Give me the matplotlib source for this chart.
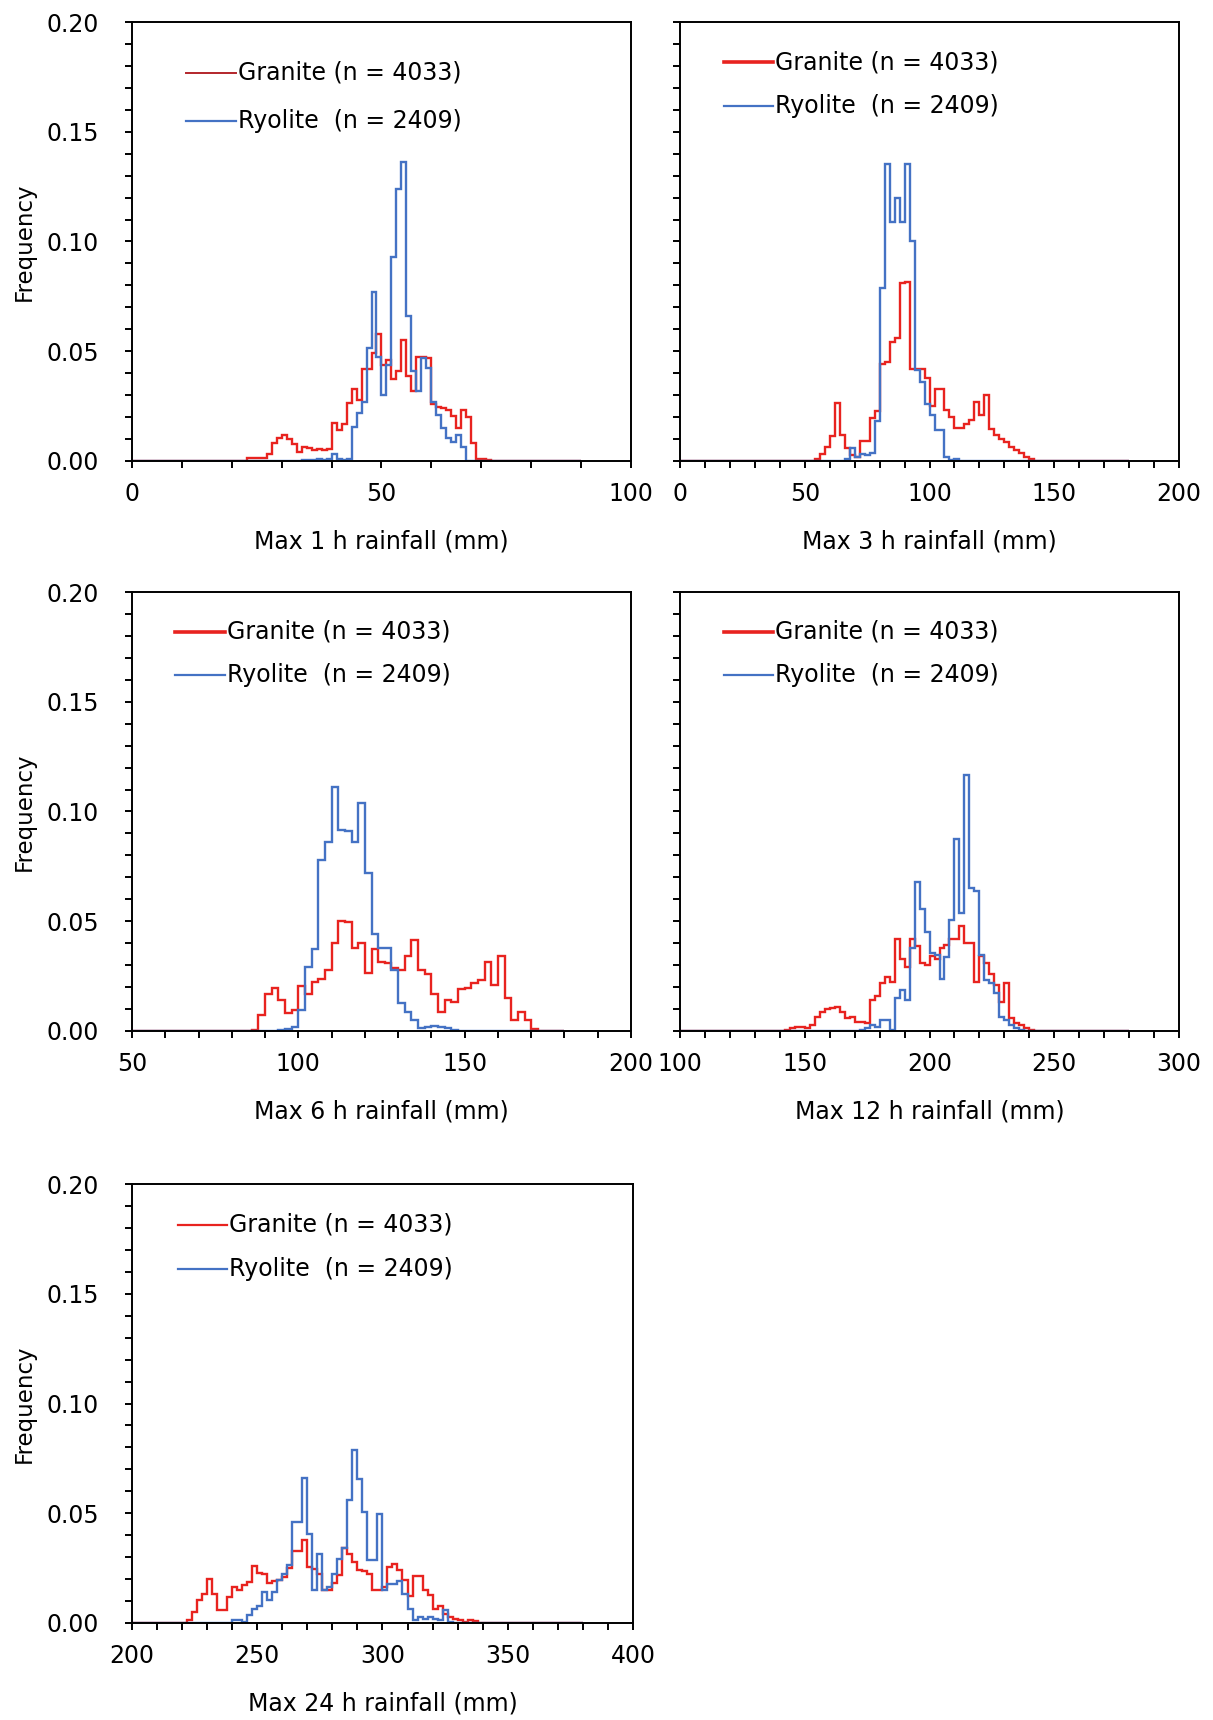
import numpy as np
import matplotlib.pyplot as plt
from matplotlib.ticker import MultipleLocator

plt.rcParams['font.family'] = ['DejaVu Sans']

RED = '#e8231f'
BLUE = '#4472c4'

# Max 1 h rainfall, 1 mm bins
red_1h_start = 23
red_1h = [0.0013, 0.0013, 0.0013, 0.0013, 0.003, 0.008, 0.0105, 0.012, 0.010, 0.0075,
          0.004, 0.0065, 0.006, 0.005, 0.0055, 0.005, 0.0055, 0.0175, 0.014, 0.017,
          0.0265, 0.033, 0.028, 0.042, 0.042, 0.049, 0.058, 0.0435, 0.046, 0.0375,
          0.041, 0.055, 0.0385, 0.032, 0.0475, 0.0475, 0.047, 0.026, 0.0245, 0.024,
          0.023, 0.0205, 0.015, 0.023, 0.020, 0.008, 0.001, 0.001, 0.0005]
blue_1h_start = 34
blue_1h = [0.0003, 0.0005, 0.0005, 0.001, 0.0005, 0.001, 0.003, 0.001, 0.0005, 0.001,
           0.0155, 0.022, 0.027, 0.0515, 0.077, 0.0475, 0.030, 0.0435, 0.093, 0.124,
           0.136, 0.066, 0.041, 0.032, 0.047, 0.0425, 0.027, 0.021, 0.0148, 0.0106,
           0.0085, 0.012, 0.0065]

# Max 3 h rainfall, 2 mm bins
red_3h_start = 54
red_3h = [0.001, 0.003, 0.0065, 0.0115, 0.0265, 0.012, 0.006, 0.0025, 0.002, 0.009,
          0.009, 0.0195, 0.0228, 0.044, 0.045, 0.054, 0.056, 0.081, 0.0815, 0.042,
          0.042, 0.042, 0.0376, 0.025, 0.033, 0.033, 0.023, 0.020, 0.0149, 0.0149,
          0.017, 0.0187, 0.0267, 0.021, 0.030, 0.0146, 0.0118, 0.010, 0.0085, 0.0065,
          0.005, 0.0035, 0.002, 0.001]
blue_3h_start = 66
blue_3h = [0.001, 0.0058, 0.002, 0.003, 0.0025, 0.0035, 0.018, 0.079, 0.1355, 0.109,
           0.12, 0.109, 0.1355, 0.100, 0.0415, 0.036, 0.026, 0.021, 0.014, 0.014,
           0.002, 0.0005, 0.001]

# Max 6 h rainfall
red_6h_start = 86
red_6h = [0.0005, 0.0073, 0.017, 0.0195, 0.014, 0.008, 0.0095, 0.0205, 0.017, 0.0225,
          0.0235, 0.028, 0.040, 0.050, 0.0495, 0.038, 0.040, 0.0265, 0.0375, 0.0315,
          0.031, 0.0285, 0.0278, 0.034, 0.0415, 0.0278, 0.026, 0.017, 0.0088, 0.014,
          0.013, 0.019, 0.0195, 0.0217, 0.023, 0.0315, 0.021, 0.034, 0.015, 0.005,
          0.0088, 0.005, 0.001]
blue_6h_start = 94
blue_6h = [0.0005, 0.001, 0.002, 0.0095, 0.029, 0.0375, 0.078, 0.086, 0.111, 0.0915,
           0.091, 0.086, 0.104, 0.072, 0.044, 0.038, 0.038, 0.028, 0.0126, 0.0088,
           0.005, 0.0012, 0.002, 0.0022, 0.002, 0.0012, 0.0005, 0.0002]

# Max 12 h rainfall
red_12h_start = 142
red_12h = [0.0005, 0.0012, 0.0017, 0.0017, 0.0012, 0.0027, 0.0065, 0.0088, 0.0099, 0.0103,
           0.0108, 0.0088, 0.0058, 0.0065, 0.0042, 0.0042, 0.0035, 0.014, 0.016, 0.022,
           0.0247, 0.0225, 0.042, 0.033, 0.029, 0.042, 0.0387, 0.031, 0.030, 0.034,
           0.0326, 0.0376, 0.039, 0.042, 0.042, 0.048, 0.040, 0.040, 0.0225, 0.034,
           0.031, 0.026, 0.021, 0.0134, 0.022, 0.0058, 0.0035, 0.0027, 0.0012, 0.0005]
blue_12h_start = 172
blue_12h = [0.0005, 0.0012, 0.0027, 0.002, 0.005, 0.005, 0.0003, 0.0149, 0.0187, 0.0141,
            0.0376, 0.068, 0.0558, 0.0452, 0.0354, 0.0346, 0.0235, 0.0338, 0.0505, 0.0873,
            0.0539, 0.1165, 0.065, 0.064, 0.0346, 0.0232, 0.0217, 0.0171, 0.0065, 0.005,
            0.0027, 0.0012, 0.0005]

# Max 24 h rainfall
red_24h_start = 222
red_24h = [0.0012, 0.005, 0.0103, 0.0134, 0.020, 0.0134, 0.0058, 0.0058, 0.0118, 0.0164,
           0.015, 0.0175, 0.0187, 0.026, 0.023, 0.0225, 0.018, 0.019, 0.0195, 0.021,
           0.025, 0.033, 0.033, 0.0377, 0.0255, 0.0248, 0.0225, 0.015, 0.0149, 0.018,
           0.0217, 0.034, 0.0316, 0.0278, 0.024, 0.0237, 0.0225, 0.0149, 0.0149, 0.0164,
           0.0255, 0.0267, 0.024, 0.0194, 0.0121, 0.0212, 0.0212, 0.0152, 0.0126, 0.0065,
           0.0076, 0.0042, 0.0027, 0.002, 0.0012, 0.0005, 0.0012, 0.0008]
blue_24h_start = 240
blue_24h = [0.0012, 0.0015, 0.0005, 0.0035, 0.0065, 0.0076, 0.0141, 0.0103, 0.0141, 0.0194,
            0.0225, 0.0262, 0.046, 0.046, 0.066, 0.0407, 0.0149, 0.0316, 0.0149, 0.0164,
            0.0225, 0.0293, 0.034, 0.056, 0.079, 0.0657, 0.0505, 0.0285, 0.0285, 0.0495,
            0.0149, 0.0176, 0.0176, 0.019, 0.0134, 0.0065, 0.0012, 0.0027, 0.002, 0.0027,
            0.002, 0.0012, 0.0058, 0.0005]

granite_label = 'Granite (n = 4033)'
ryolite_label = 'Ryolite  (n = 2409)'

panels = [
    dict(xlim=(0, 100), span=(0, 90), w=1, xlabel='Max 1 h rainfall (mm)',
         red=(red_1h_start, red_1h), blue=(blue_1h_start, blue_1h),
         rect=[0.1088, 0.7320, 0.4114, 0.2552], leg=(0.108, 0.208, 0.884, 0.774, '#b3262b', 1.4),
         ylab=True),
    dict(xlim=(0, 200), span=(0, 180), w=2, xlabel='Max 3 h rainfall (mm)',
         red=(red_3h_start, red_3h), blue=(blue_3h_start, blue_3h),
         rect=[0.5606, 0.7320, 0.4114, 0.2552], leg=(0.088, 0.186, 0.908, 0.809, RED, 2.6),
         ylab=False),
    dict(xlim=(50, 200), span=(50, 180), w=2, xlabel='Max 6 h rainfall (mm)',
         red=(red_6h_start, red_6h), blue=(blue_6h_start, blue_6h),
         rect=[0.1088, 0.4006, 0.4114, 0.2552], leg=(0.086, 0.186, 0.909, 0.810, RED, 2.6),
         ylab=True),
    dict(xlim=(100, 300), span=(100, 280), w=2, xlabel='Max 12 h rainfall (mm)',
         red=(red_12h_start, red_12h), blue=(blue_12h_start, blue_12h),
         rect=[0.5606, 0.4006, 0.4114, 0.2552], leg=(0.088, 0.186, 0.909, 0.810, RED, 2.6),
         ylab=False),
    dict(xlim=(200, 400), span=(200, 380), w=2, xlabel='Max 24 h rainfall (mm)',
         red=(red_24h_start, red_24h), blue=(blue_24h_start, blue_24h),
         rect=[0.1088, 0.0564, 0.4130, 0.2552], leg=(0.092, 0.190, 0.907, 0.806, RED, 1.6),
         ylab=True),
]


def full_series(start, vals, lo, hi, w):
    edges = np.arange(lo, hi + w / 2, w)
    y = np.zeros(len(edges) - 1)
    i0 = int(round((start - lo) / w))
    y[i0:i0 + len(vals)] = vals
    return edges, y


fig = plt.figure(figsize=(12.13, 17.20), dpi=100)

for p in panels:
    ax = fig.add_axes(p['rect'])
    lo, hi = p['span']
    e, y = full_series(p['red'][0], p['red'][1], lo, hi, p['w'])
    ax.stairs(y, e, color=RED, lw=1.7, baseline=None)
    e, y = full_series(p['blue'][0], p['blue'][1], lo, hi, p['w'])
    ax.stairs(y, e, color=BLUE, lw=1.7, baseline=None)

    ax.set_xlim(*p['xlim'])
    ax.set_ylim(0, 0.20)
    ax.xaxis.set_major_locator(MultipleLocator(50))
    ax.xaxis.set_minor_locator(MultipleLocator(10))
    ax.yaxis.set_major_locator(MultipleLocator(0.05))
    ax.yaxis.set_minor_locator(MultipleLocator(0.01))
    ax.tick_params(which='both', direction='out', length=5, width=1.4, labelsize=17)
    ax.tick_params(axis='x', pad=10)
    ax.tick_params(axis='y', pad=19)
    for s in ax.spines.values():
        s.set_linewidth(1.4)

    if p['ylab']:
        ax.yaxis.set_major_formatter(plt.FuncFormatter(lambda v, _: f'{v:.2f}'))
        ax.text(-0.216, 0.5, 'Frequency', transform=ax.transAxes, rotation=90,
                ha='center', va='center', fontsize=16.5)
    else:
        ax.set_yticklabels([])

    ax.text(0.5, -0.183, p['xlabel'], transform=ax.transAxes, ha='center', va='center',
            fontsize=17)

    x0, x1, y1, y2, gcol, glw = p['leg']
    ax.plot([x0, x1], [y1, y1], color=gcol, lw=glw, transform=ax.transAxes)
    ax.plot([x0, x1], [y2, y2], color=BLUE, lw=1.6, transform=ax.transAxes)
    ax.text(x1 + 0.004, y1, granite_label, transform=ax.transAxes, ha='left', va='center',
            fontsize=17)
    ax.text(x1 + 0.004, y2, ryolite_label, transform=ax.transAxes, ha='left', va='center',
            fontsize=17)

fig.savefig('out.png', dpi=100)
